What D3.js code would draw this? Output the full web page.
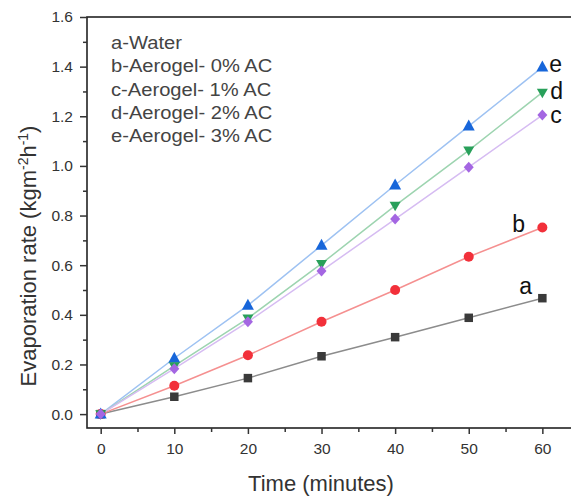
<!DOCTYPE html>
<html>
<head>
<meta charset="utf-8">
<script src="https://cdn.jsdelivr.net/npm/d3@7"></script>
<style>
  body { margin: 0; background: #fff; }
  svg { font-family: Arial, "Liberation Sans", sans-serif; }
</style>
</head>
<body>
<svg id="chart" width="571" height="498"></svg>
<script>
// time points, minutes
var times = [0, 10, 20, 30, 40, 50, 60];

// evaporation rate (kg m-2 h-1) per sample
var water = [0, 0.07, 0.145, 0.233, 0.31, 0.388, 0.467];
var aerogel0 = [0, 0.114, 0.237, 0.372, 0.50, 0.634, 0.752];
var aerogel1 = [0, 0.183, 0.372, 0.577, 0.786, 0.995, 1.205];
var aerogel2 = [0, 0.194, 0.386, 0.606, 0.840, 1.063, 1.296];
var aerogel3 = [0, 0.225, 0.438, 0.680, 0.923, 1.160, 1.398];

var legendLines = ["a-Water", "b-Aerogel- 0% AC", "c-Aerogel- 1% AC", "d-Aerogel- 2% AC", "e-Aerogel- 3% AC"];
var xTicks = [0, 10, 20, 30, 40, 50, 60];
var xMinor = [5, 15, 25, 35, 45, 55];
var yTicks = [0, 0.2, 0.4, 0.6, 0.8, 1.0, 1.2, 1.4, 1.6];
var yMinor = [0.1, 0.3, 0.5, 0.7, 0.9, 1.1, 1.3, 1.5];

// simple marker shapes, w x h box
function shape(kind, w, h) {
  return {
    draw: function(ctx) {
      if (kind == "square") {
        ctx.rect(-w / 2, -h / 2, w, h);
      } else if (kind == "circle") {
        ctx.moveTo(w / 2, 0);
        ctx.arc(0, 0, w / 2, 0, 2 * Math.PI);
      } else if (kind == "diamond") {
        ctx.moveTo(0, -h / 2); ctx.lineTo(w / 2, 0); ctx.lineTo(0, h / 2); ctx.lineTo(-w / 2, 0);
      } else if (kind == "down") {
        ctx.moveTo(-w / 2, -h * 0.4); ctx.lineTo(w / 2, -h * 0.4); ctx.lineTo(0, h * 0.6);
      } else {
        ctx.moveTo(0, -h * 0.6); ctx.lineTo(w / 2, h * 0.4); ctx.lineTo(-w / 2, h * 0.4);
      }
      ctx.closePath();
    }
  };
}

var series = [
  {key: "a", values: water,    marker: "#3a3a3a", line: "#8c8c8c", sym: shape("square", 8.5, 8.5), lab: [-23, -4]},
  {key: "b", values: aerogel0, marker: "#f2303a", line: "#f59090", sym: shape("circle", 10, 10),   lab: [-30, 5]},
  {key: "e", values: aerogel3, marker: "#1766da", line: "#9ec2f2", sym: shape("up", 12, 11),       lab: [7, 5]},
  {key: "d", values: aerogel2, marker: "#28a05a", line: "#9dd4b0", sym: shape("down", 11, 9.5),    lab: [8, 7]},
  {key: "c", values: aerogel1, marker: "#a466e2", line: "#d6bcf2", sym: shape("diamond", 10, 11),  lab: [8, 8]}
];

var svg = d3.select("#chart");
var plotL = 87, plotR = 574, plotT = 17, plotB = 428;

var x = d3.scaleLinear().domain([-1.86, 64.3]).range([plotL, plotR]);
var y = d3.scaleLinear().domain([-0.056, 1.6]).range([plotB, plotT]);

// frame
svg.append("rect")
  .attr("x", plotL).attr("y", plotT)
  .attr("width", plotR - plotL).attr("height", plotB - plotT)
  .attr("fill", "none").attr("stroke", "#222").attr("stroke-width", 1.6);

function styleAxis(g) {
  g.select(".domain").remove();
  g.selectAll(".tick line").attr("stroke", "#333").attr("stroke-width", 1.5);
  g.selectAll(".tick text").attr("font-size", 15.5).attr("fill", "#333")
    .attr("font-family", "Arial, Liberation Sans, sans-serif");
}

// x axis
svg.append("g").attr("transform", "translate(0," + plotB + ")")
  .call(d3.axisBottom(x).tickValues(xTicks).tickSize(6).tickPadding(9))
  .call(styleAxis);
svg.append("g").attr("transform", "translate(0," + plotB + ")")
  .call(d3.axisBottom(x).tickValues(xMinor).tickSize(4).tickFormat(""))
  .call(styleAxis);

// y axis
svg.append("g").attr("transform", "translate(" + plotL + ",0)")
  .call(d3.axisLeft(y).tickValues(yTicks).tickSize(7).tickPadding(7).tickFormat(d3.format(".1f")))
  .call(styleAxis);
svg.append("g").attr("transform", "translate(" + plotL + ",0)")
  .call(d3.axisLeft(y).tickValues(yMinor).tickSize(4).tickFormat(""))
  .call(styleAxis);

// axis titles
svg.append("text")
  .attr("x", 321).attr("y", 491)
  .attr("text-anchor", "middle").attr("font-size", 22).attr("fill", "#333")
  .text("Time (minutes)");

var yt = svg.append("text")
  .attr("transform", "translate(36,256) rotate(-90)")
  .attr("text-anchor", "middle").attr("font-size", 22).attr("fill", "#333");
yt.append("tspan").text("Evaporation rate (kgm");
yt.append("tspan").attr("font-size", 14).attr("dy", -8).text("-2");
yt.append("tspan").attr("dy", 8).text("h");
yt.append("tspan").attr("font-size", 14).attr("dy", -8).text("-1");
yt.append("tspan").attr("dy", 8).text(")");

// lines
var line = d3.line().x(function(d, i) { return x(times[i]); }).y(function(d) { return y(d); });

series.forEach(function(s) {
  svg.append("path")
    .datum(s.values)
    .attr("d", line)
    .attr("fill", "none")
    .attr("stroke", s.line)
    .attr("stroke-width", 1.5);
});

// markers
series.forEach(function(s) {
  svg.append("g").selectAll("path")
    .data(s.values)
    .join("path")
    .attr("transform", function(d, i) { return "translate(" + x(times[i]) + "," + y(d) + ")"; })
    .attr("d", d3.symbol().type(s.sym))
    .attr("fill", s.marker);
});

// end labels
series.forEach(function(s) {
  var last = s.values[s.values.length - 1];
  svg.append("text")
    .attr("x", x(60) + s.lab[0])
    .attr("y", y(last) + s.lab[1])
    .attr("font-size", 23).attr("fill", "#111")
    .text(s.key);
});

// legend text block (slightly wide lettering as in the original)
svg.append("g").selectAll("text")
  .data(legendLines)
  .join("text")
  .attr("transform", function(d, i) { return "translate(111," + (49 + i * 23.3) + ") scale(1.09,1)"; })
  .attr("font-size", 18.5).attr("fill", "#444")
  .text(function(d) { return d; });
</script>
</body>
</html>
